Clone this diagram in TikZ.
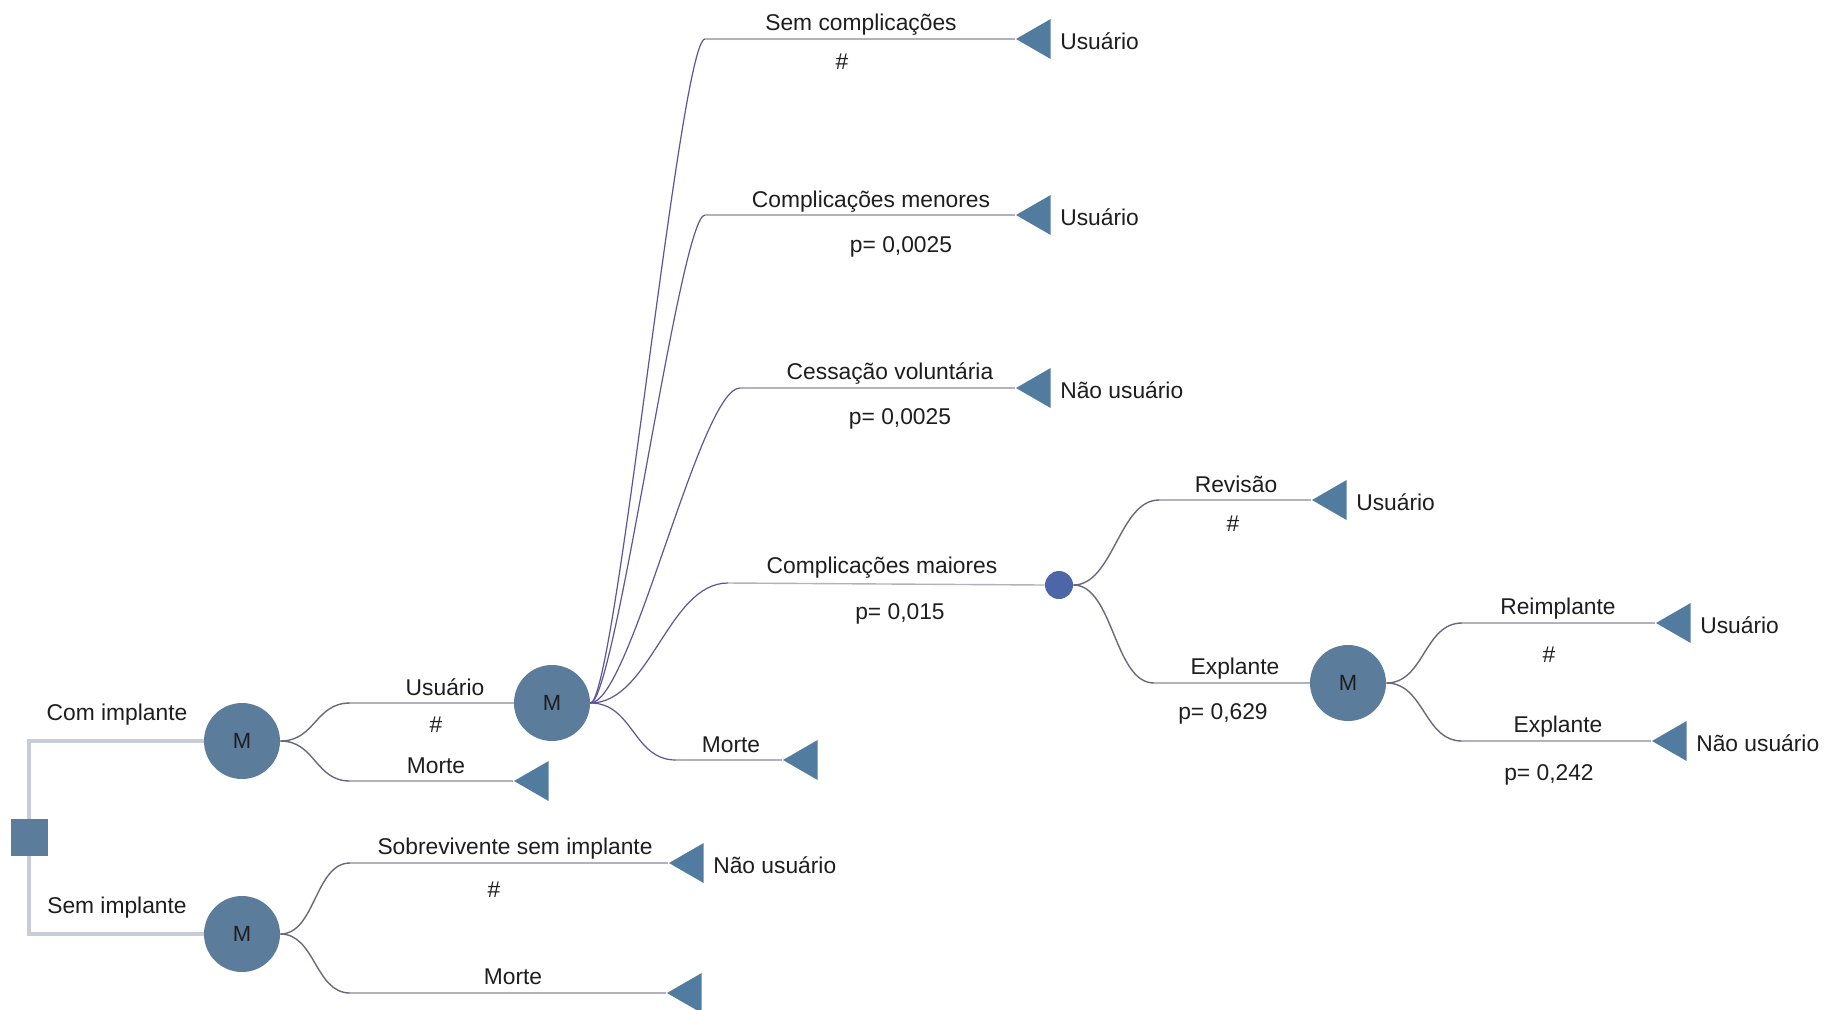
\documentclass[tikz,border=0pt]{standalone}
\usepackage{fontspec}
\setmainfont{Liberation Sans}
\usetikzlibrary{shapes.geometric,backgrounds}
\definecolor{nodeblue}{RGB}{92,124,156}
\definecolor{triblue}{RGB}{82,123,160}
\definecolor{chanceblue}{RGB}{76,102,168}
\definecolor{curvegrey}{RGB}{105,105,125}
\definecolor{curvepurple}{RGB}{95,85,150}
\definecolor{hgrey}{RGB}{178,178,188}
\definecolor{bracketcol}{RGB}{200,204,216}
\definecolor{txt}{RGB}{30,30,30}
\begin{document}
\begin{tikzpicture}[x=0.5pt,y=-0.5pt,
 markov/.style={circle,fill=nodeblue,minimum size=38pt,inner sep=0,font=\fontsize{11}{13}\selectfont,text=txt},
 chancenode/.style={circle,fill=chanceblue,minimum size=14pt,inner sep=0},
 decision/.style={rectangle,fill=nodeblue,minimum size=18.5pt,inner sep=0},
 terminal/.style={regular polygon,regular polygon sides=3,shape border rotate=90,fill=triblue,minimum size=23pt,inner sep=0},
 lbl/.style={font=\fontsize{11.4}{13}\selectfont,text=txt,inner sep=0,yshift=-1.1pt},
 tlbl/.style={lbl,anchor=west},
 curve/.style={draw=curvegrey,line width=0.7pt},
 pcurve/.style={draw=curvepurple,line width=0.6pt},
 hline/.style={draw=hgrey,line width=0.7pt},
 brk/.style={draw=bracketcol,line width=1.6pt}
]
\useasboundingbox (0,0) rectangle (1827,1009);

% nodes
\node[decision] (dec) at (29,837) {};
\node[markov] (comM) at (242,741) {M};
\node[markov] (semM) at (242,934) {M};
\node[markov] (usrM) at (552,703) {M};
\node[chancenode] (chance) at (1059,585) {};
\node[markov] (expM) at (1348,683) {M};

\node[terminal] (tCm) at (537,781) {};
\node[terminal] (tSob) at (692,863) {};
\node[terminal] (tSm) at (690,993) {};
\node[terminal] (tSc) at (1039,39) {};
\node[terminal] (tCmen) at (1039,215) {};
\node[terminal] (tCv) at (1039,388) {};
\node[terminal] (tUm) at (806,760) {};
\node[terminal] (tRev) at (1335,500) {};
\node[terminal] (tRe) at (1679,623) {};
\node[terminal] (tEx) at (1675,741) {};

% corners
\coordinate (cU) at (350,703);
\coordinate (cCm) at (350,781);
\coordinate (cSob) at (350,863);
\coordinate (cSm) at (350,993);
\coordinate (cSc) at (705,39);
\coordinate (cCmen) at (705,215);
\coordinate (cCv) at (740,388);
\coordinate (cCmai) at (728,583);
\coordinate (cUm) at (676,760);
\coordinate (cRev) at (1159,500);
\coordinate (cExp) at (1154,683);
\coordinate (cRe) at (1462,623);
\coordinate (cEx) at (1462,741);

\begin{scope}[on background layer]
\fill[white] (0,0) rectangle (1827,1009);
\draw[brk] (comM.west) -| (dec.center) |- (semM.west);
\draw[curve] (comM.east) .. controls +(35,0) and +(-35,0) .. (cU);
\draw[hline] (cU) -- (usrM.west);
\draw[curve] (comM.east) .. controls +(35,0) and +(-35,0) .. (cCm);
\draw[hline] (cCm) -- (tCm.west);
\draw[curve] (semM.east) .. controls +(35,0) and +(-35,0) .. (cSob);
\draw[hline] (cSob) -- (tSob.west);
\draw[curve] (semM.east) .. controls +(35,0) and +(-35,0) .. (cSm);
\draw[hline] (cSm) -- (tSm.west);
\draw[pcurve] (usrM.east) .. controls +(25,0) and +(-25,0) .. (cSc);
\draw[hline] (cSc) -- (tSc.west);
\draw[pcurve] (usrM.east) .. controls +(25,0) and +(-25,0) .. (cCmen);
\draw[hline] (cCmen) -- (tCmen.west);
\draw[pcurve] (usrM.east) .. controls +(40,0) and +(-40,0) .. (cCv);
\draw[hline] (cCv) -- (tCv.west);
\draw[pcurve] (usrM.east) .. controls +(60,0) and +(-60,0) .. (cCmai);
\draw[hline] (cCmai) -- (chance.west);
\draw[pcurve] (usrM.east) .. controls +(43,0) and +(-43,0) .. (cUm);
\draw[hline] (cUm) -- (tUm.west);
\draw[curve] (chance.east) .. controls +(40,0) and +(-40,0) .. (cRev);
\draw[hline] (cRev) -- (tRev.west);
\draw[curve] (chance.east) .. controls +(40,0) and +(-40,0) .. (cExp);
\draw[hline] (cExp) -- (expM.west);
\draw[curve] (expM.east) .. controls +(38,0) and +(-38,0) .. (cRe);
\draw[hline] (cRe) -- (tRe.west);
\draw[curve] (expM.east) .. controls +(38,0) and +(-38,0) .. (cEx);
\draw[hline] (cEx) -- (tEx.west);
\end{scope}

% branch labels
\node[lbl] (lCom) at (117,712) {Com implante};
\node[lbl] (lSem) at (117,905) {Sem implante};
\node[lbl] (lU) at (445,685) {Usuário};
\node[lbl] (lUh) at (436,722) {\#};
\node[lbl] (lCm) at (436,764) {Morte};
\node[lbl] (lSob) at (515,846) {Sobrevivente sem implante};
\node[lbl] (lSobh) at (494,887) {\#};
\node[lbl] (lSm) at (513,975) {Morte};
\node[lbl] (lSc) at (861,22) {Sem complicações};
\node[lbl] (lSch) at (842,59) {\#};
\node[lbl] (lCmen) at (871,199) {Complicações menores};
\node[lbl] (lCmenp) at (901,245) {p= 0,0025};
\node[lbl] (lCv) at (890,371) {Cessação voluntária};
\node[lbl] (lCvp) at (900,417) {p= 0,0025};
\node[lbl] (lCmai) at (882,565) {Complicações maiores};
\node[lbl] (lCmaip) at (900,612) {p= 0,015};
\node[lbl] (lUm) at (731,743) {Morte};
\node[lbl] (lRev) at (1236,482) {Revisão};
\node[lbl] (lRevh) at (1233,521) {\#};
\node[lbl] (lExp) at (1235,666) {Explante};
\node[lbl] (lExpp) at (1223,712) {p= 0,629};
\node[lbl] (lRe) at (1558,606) {Reimplante};
\node[lbl] (lReh) at (1549,652) {\#};
\node[lbl] (lEx) at (1558,724) {Explante};
\node[lbl] (lExp2) at (1549,773) {p= 0,242};

% terminal labels
\node[tlbl] (oSob) at ([xshift=4.5pt]tSob.east) {Não usuário};
\node[tlbl] (oSc) at ([xshift=4.5pt]tSc.east) {Usuário};
\node[tlbl] (oCmen) at ([xshift=4.5pt]tCmen.east) {Usuário};
\node[tlbl] (oCv) at ([xshift=4.5pt]tCv.east) {Não usuário};
\node[tlbl] (oRev) at ([xshift=4.5pt]tRev.east) {Usuário};
\node[tlbl] (oRe) at ([xshift=4.5pt]tRe.east) {Usuário};
\node[tlbl] (oEx) at ([xshift=4.5pt]tEx.east) {Não usuário};
\end{tikzpicture}
\end{document}
